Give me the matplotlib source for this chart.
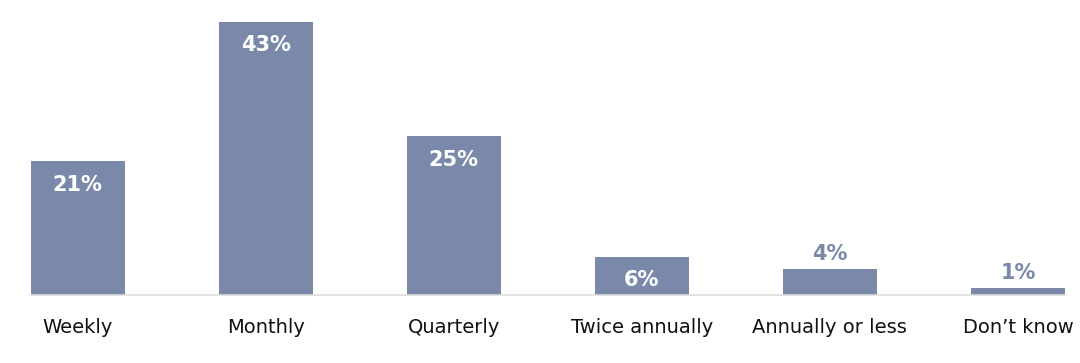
import matplotlib
matplotlib.use("Agg")
import matplotlib.pyplot as plt

# survey answers (share of respondents, %)
categories = ["Weekly", "Monthly", "Quarterly", "Twice annually", "Annually or less", "Don\u2019t know"]
values = [21, 43, 25, 6, 4, 1]

bar_color = "#7a89a9"

plt.rcParams['font.family'] = ['DejaVu Sans']

fig = plt.figure(figsize=(10.8, 3.63), dpi=100)
ax = fig.add_axes([30.7 / 1080, 1 - 294.7 / 363, (1065 - 30.7) / 1080, (294.7 - 21.7) / 363])

x = range(len(categories))
bars = ax.bar(x, values, width=0.5, color=bar_color)

ax.set_xlim(-0.25, len(categories) - 0.75)
ax.set_ylim(0, max(values))

# percentage labels: white inside tall bars, coloured above the short ones
for rect, v in zip(bars, values):
    cx = rect.get_x() + rect.get_width() / 2
    if v >= 5:
        ax.annotate(f"{v}%", (cx, v), xytext=(0, -17), textcoords="offset points",
                    ha="center", va="center", color="white", fontsize=15, fontweight="bold")
    else:
        ax.annotate(f"{v}%", (cx, v), xytext=(0, 11), textcoords="offset points",
                    ha="center", va="center", color=bar_color, fontsize=15, fontweight="bold",
                    annotation_clip=False)

ax.set_xticks(list(x))
ax.set_xticklabels(categories, fontsize=14, color="#111111")
ax.tick_params(axis="x", length=0, pad=17)
ax.set_yticks([])

for side in ["top", "right", "left"]:
    ax.spines[side].set_visible(False)
ax.spines["bottom"].set_color("#dcdcdc")
ax.spines["bottom"].set_linewidth(1.2)

fig.savefig("out.png", dpi=100)
